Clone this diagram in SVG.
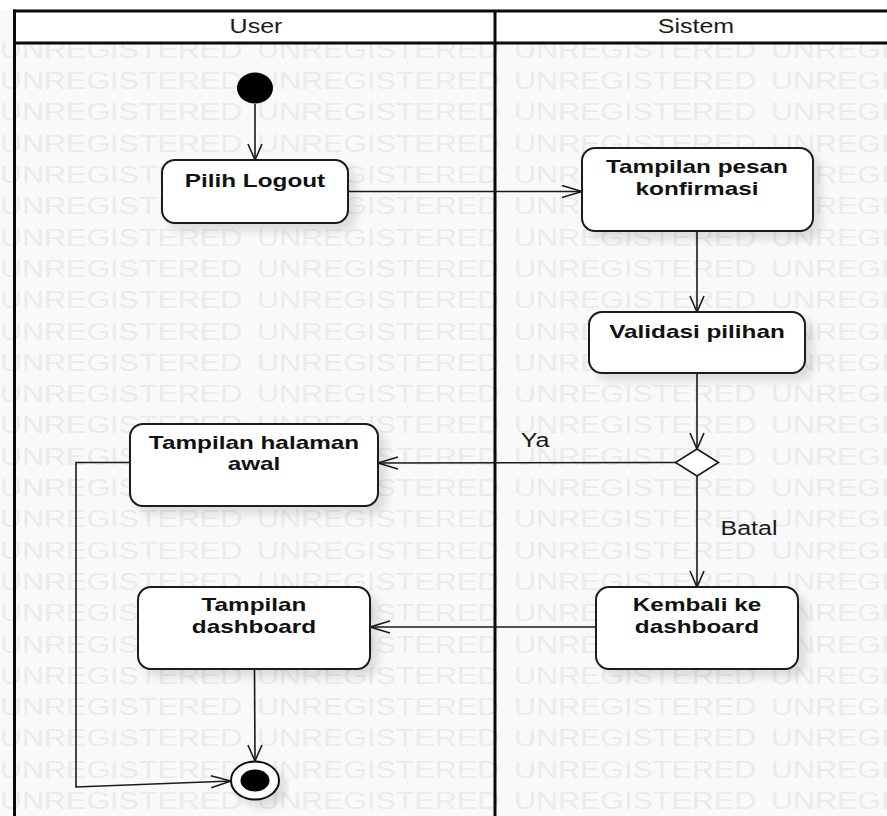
<svg xmlns="http://www.w3.org/2000/svg" xmlns:xlink="http://www.w3.org/1999/xlink" width="887" height="816" viewBox="0 0 887 816">
  <style>
    .wm { font-family: "Liberation Sans", Arial, sans-serif; font-size: 23px; fill: #ebebeb; }
    .lane { font-family: "Liberation Sans", Arial, sans-serif; font-size: 20px; fill: #1a1a1a; text-anchor: middle; }
    .lbl { font-family: "Liberation Sans", Arial, sans-serif; font-size: 20px; fill: #1a1a1a; text-anchor: middle; }
    .nt { font-family: "Liberation Sans", Arial, sans-serif; font-size: 19px; font-weight: bold; fill: #111; text-anchor: middle; }
    .box { fill: #ffffff; stroke: #1a1a1a; stroke-width: 2; filter: url(#sh); }
    .frame { stroke: #0a0a0a; stroke-width: 3; fill: none; }
    .edge { fill: none; stroke: #1a1a1a; stroke-width: 1.6; }
  </style>
  <defs>
    <filter id="sh" x="-10%" y="-10%" width="130%" height="150%">
      <feGaussianBlur in="SourceAlpha" stdDeviation="4"/>
      <feOffset dx="7" dy="7" result="o"/>
      <feComponentTransfer><feFuncA type="linear" slope="0.12"/></feComponentTransfer>
      <feMerge><feMergeNode/><feMergeNode in="SourceGraphic"/></feMerge>
    </filter>
    <marker id="av" viewBox="0 0 18 16" refX="17" refY="8" markerWidth="18" markerHeight="16" markerUnits="userSpaceOnUse" orient="auto">
      <path d="M1,1 L17,8 L1,15" fill="none" stroke="#1a1a1a" stroke-width="1.6"/>
    </marker>
    <marker id="ah" viewBox="0 0 22 14" refX="21" refY="7" markerWidth="22" markerHeight="14" markerUnits="userSpaceOnUse" orient="auto">
      <path d="M1,1 L21,7 L1,13" fill="none" stroke="#1a1a1a" stroke-width="1.6"/>
    </marker>
    <text id="wm" class="wm" transform="scale(1.326 1)"><tspan x="0">UNREGISTERED</tspan><tspan x="193.8">UNREGISTERED</tspan><tspan x="387.6">UNREGISTERED</tspan><tspan x="581.4">UNREGISTERED</tspan></text>
  </defs>

  <!-- background and watermark rows -->
  <rect x="0" y="0" width="887" height="816" fill="#f9f9f9"/>
  <g id="watermark">
    <use xlink:href="#wm" y="57.8"/>
    <use xlink:href="#wm" y="89.1"/>
    <use xlink:href="#wm" y="120.4"/>
    <use xlink:href="#wm" y="151.7"/>
    <use xlink:href="#wm" y="183"/>
    <use xlink:href="#wm" y="214.3"/>
    <use xlink:href="#wm" y="245.6"/>
    <use xlink:href="#wm" y="276.9"/>
    <use xlink:href="#wm" y="308.2"/>
    <use xlink:href="#wm" y="339.5"/>
    <use xlink:href="#wm" y="370.8"/>
    <use xlink:href="#wm" y="402.1"/>
    <use xlink:href="#wm" y="433.4"/>
    <use xlink:href="#wm" y="464.7"/>
    <use xlink:href="#wm" y="496"/>
    <use xlink:href="#wm" y="527.3"/>
    <use xlink:href="#wm" y="558.6"/>
    <use xlink:href="#wm" y="589.9"/>
    <use xlink:href="#wm" y="621.2"/>
    <use xlink:href="#wm" y="652.5"/>
    <use xlink:href="#wm" y="683.8"/>
    <use xlink:href="#wm" y="715.1"/>
    <use xlink:href="#wm" y="746.4"/>
    <use xlink:href="#wm" y="777.7"/>
    <use xlink:href="#wm" y="809"/>
  </g>

  <!-- swimlanes -->
  <g id="lanes">
    <rect x="0" y="0" width="887" height="11" fill="#ffffff"/>
    <rect x="14" y="11" width="873" height="32" fill="#ffffff"/>
    <line class="frame" x1="13" y1="11" x2="887" y2="11"/>
    <line class="frame" x1="14" y1="43" x2="887" y2="43" stroke-width="2.5"/>
    <line class="frame" x1="14.5" y1="9.5" x2="14.5" y2="816"/>
    <line class="frame" x1="495" y1="11" x2="495" y2="816"/>
    <text class="lane" transform="translate(256 33) scale(1.25 1)">User</text>
    <text class="lane" transform="translate(696 33) scale(1.25 1)">Sistem</text>
  </g>

  <!-- connectors -->
  <g id="edges">
    <line class="edge" x1="255" y1="104" x2="255" y2="160" marker-end="url(#av)"/>
    <line class="edge" x1="348" y1="191.5" x2="582" y2="191.5" marker-end="url(#ah)"/>
    <line class="edge" x1="697" y1="231" x2="697" y2="312" marker-end="url(#av)"/>
    <line class="edge" x1="697" y1="373" x2="697" y2="449" marker-end="url(#av)"/>
    <line class="edge" x1="676" y1="462.5" x2="378" y2="463" marker-end="url(#ah)"/>
    <line class="edge" x1="697" y1="476" x2="697" y2="587" marker-end="url(#av)"/>
    <line class="edge" x1="596" y1="627" x2="370" y2="627" marker-end="url(#ah)"/>
    <line class="edge" x1="254.5" y1="669" x2="255" y2="761" marker-end="url(#av)"/>
    <polyline class="edge" points="130,462.5 76,462.5 76,787 231,781" marker-end="url(#ah)"/>
    <text class="lbl" transform="translate(535 447) scale(1.25 1)">Ya</text>
    <text class="lbl" transform="translate(749 535) scale(1.25 1)">Batal</text>
  </g>

  <!-- activity nodes -->
  <g id="start">
    <ellipse cx="255" cy="88" rx="18" ry="15.5" fill="#000"/>
  </g>
  <g id="pilih-logout">
    <rect class="box" x="162" y="160" width="186" height="63" rx="13"/>
    <text class="nt" transform="translate(255 187) scale(1.28 1)">Pilih Logout</text>
  </g>
  <g id="tampilan-pesan">
    <rect class="box" x="582" y="148" width="231" height="83" rx="13"/>
    <text class="nt" transform="translate(697 173) scale(1.28 1)">Tampilan pesan</text>
    <text class="nt" transform="translate(697 194.5) scale(1.28 1)">konfirmasi</text>
  </g>
  <g id="validasi">
    <rect class="box" x="589" y="312" width="216" height="61" rx="13"/>
    <text class="nt" transform="translate(697 337.5) scale(1.28 1)">Validasi pilihan</text>
  </g>
  <g id="decision">
    <polygon points="697,449 718.5,462.5 697,476 675.5,462.5" fill="#fff" stroke="#1a1a1a" stroke-width="1.6"/>
  </g>
  <g id="tampilan-halaman">
    <rect class="box" x="130" y="424" width="248" height="82" rx="13"/>
    <text class="nt" transform="translate(254 448.5) scale(1.28 1)">Tampilan halaman</text>
    <text class="nt" transform="translate(254 470) scale(1.28 1)">awal</text>
  </g>
  <g id="kembali">
    <rect class="box" x="596" y="587" width="202" height="82" rx="13"/>
    <text class="nt" transform="translate(697 611) scale(1.28 1)">Kembali ke</text>
    <text class="nt" transform="translate(697 632.5) scale(1.28 1)">dashboard</text>
  </g>
  <g id="tampilan-dashboard">
    <rect class="box" x="138" y="587" width="232" height="82" rx="13"/>
    <text class="nt" transform="translate(254 611) scale(1.28 1)">Tampilan</text>
    <text class="nt" transform="translate(254 632.5) scale(1.28 1)">dashboard</text>
  </g>
  <g id="end">
    <ellipse cx="255" cy="780.5" rx="24" ry="19" fill="#fff" stroke="#111" stroke-width="2" filter="url(#sh)"/>
    <ellipse cx="255" cy="780.5" rx="14.5" ry="11" fill="#000"/>
  </g>
</svg>
